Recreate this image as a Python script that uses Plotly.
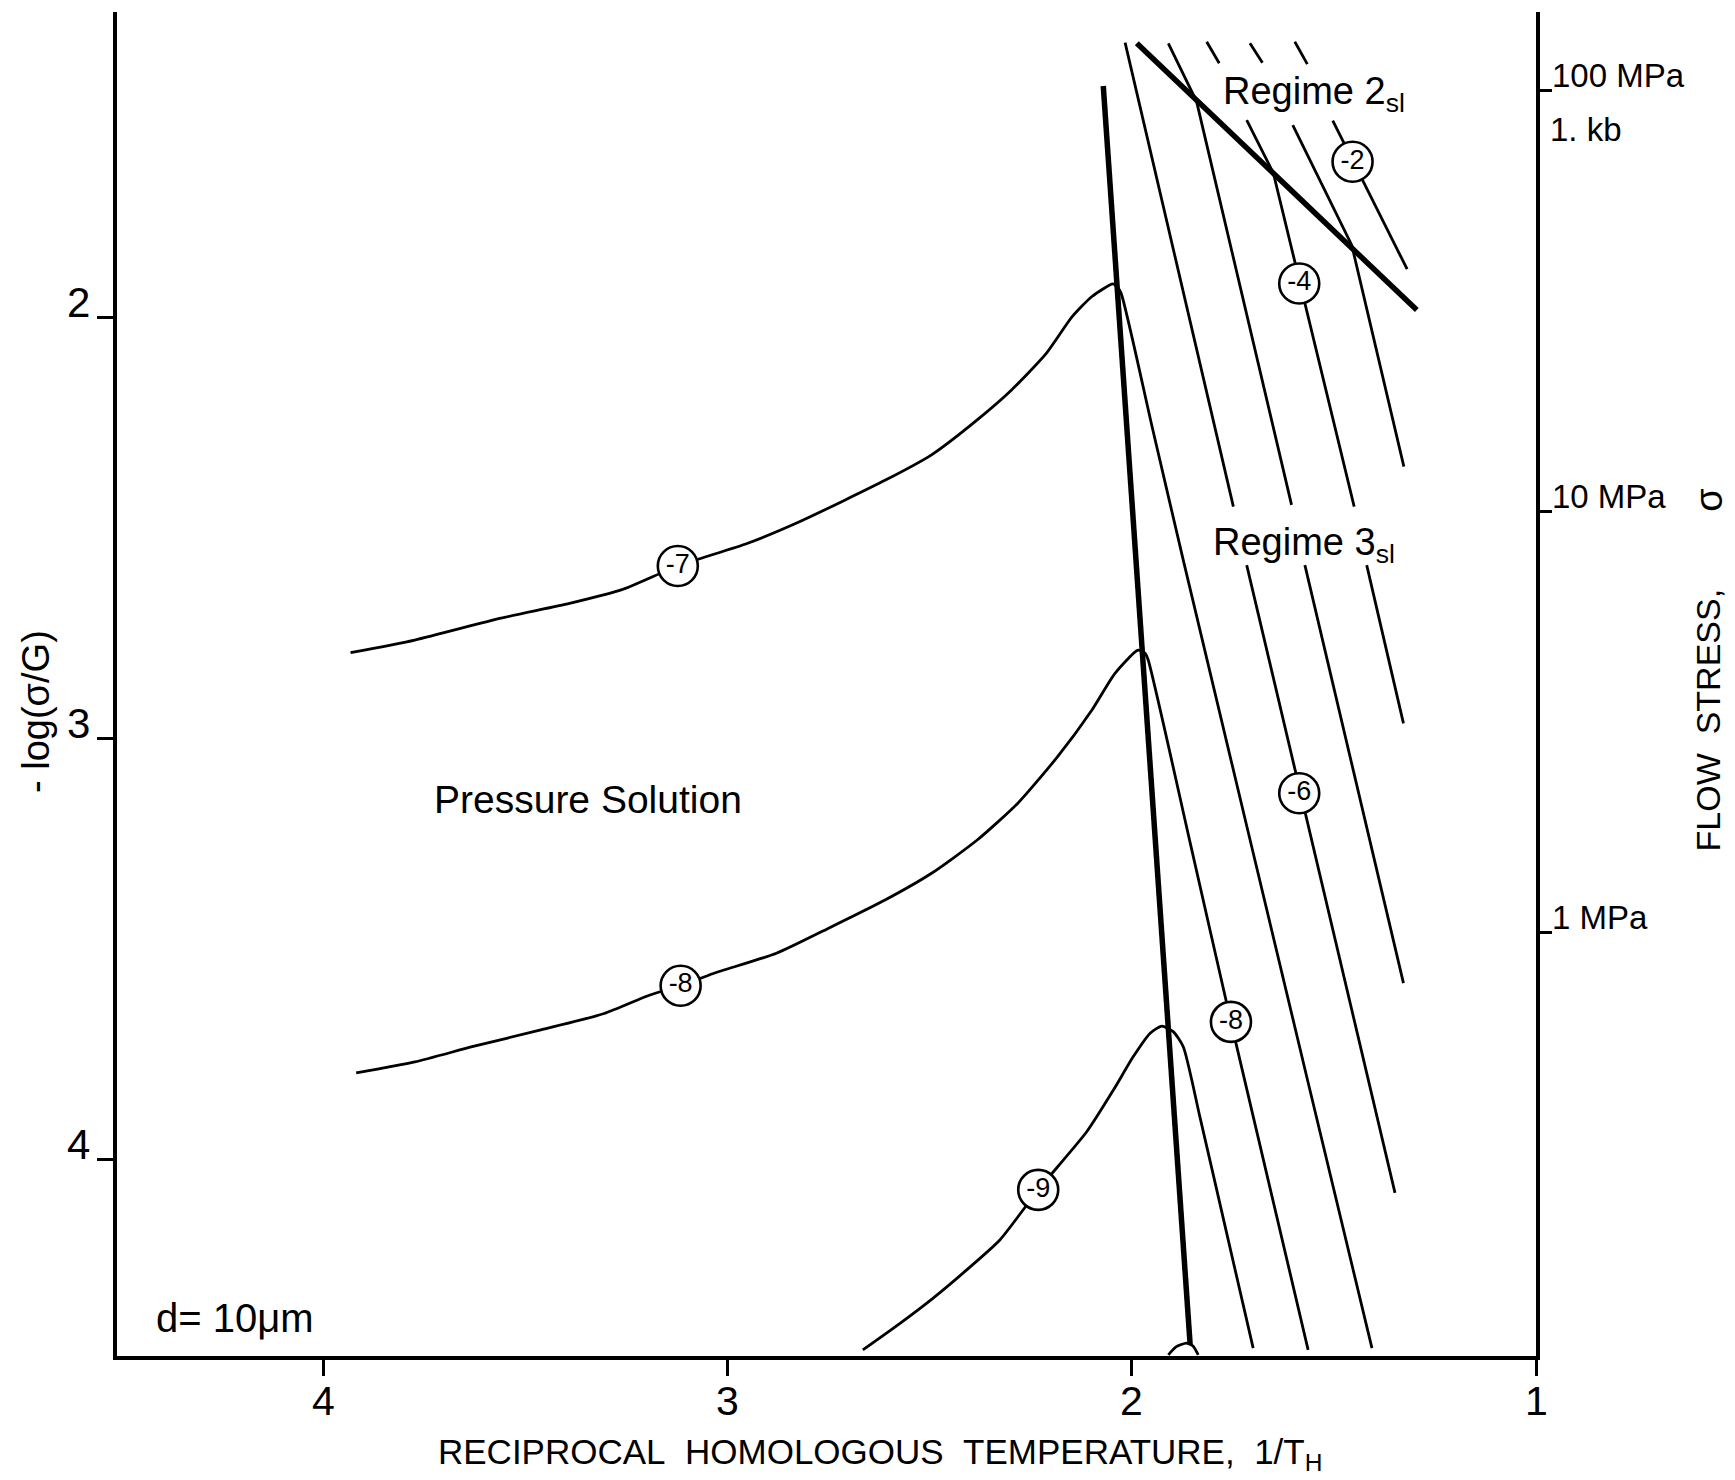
import plotly.graph_objects as go

# ---------------------------------------------------------------------------
# Deformation map: -log(sigma/G) versus reciprocal homologous temperature
# ---------------------------------------------------------------------------

X_RANGE = [4.512, 1.0]        # 1/T_H, decreasing to the right
Y_RANGE = [4.4656, 1.2732]    # -log(sigma/G), increasing downward
LOG_G_MPA = 3.46              # log10(G / MPa): sigma[MPa] = 10**(LOG_G_MPA - y)

x_ticks = [4, 3, 2, 1]
y_ticks = [2, 3, 4]
stress_ticks = [2, 1, 0]      # log10(sigma / MPa)
stress_labels = ["100 MPa", "10 MPa", "1 MPa"]

# Strain-rate contours (log strain rate) of the pressure-solution field,
# each continuing across the boundary into the regime 3 field
ps7_x = [3.934, 3.775, 3.562, 3.392, 3.264, 3.124, 2.951, 2.823, 2.610, 2.496,
         2.383, 2.298, 2.212, 2.148, 2.099, 2.047, 2.037, 2.027, 1.950, 1.873,
         1.564, 1.406]
ps7_y = [2.795, 2.765, 2.713, 2.678, 2.646, 2.589, 2.535, 2.484, 2.385, 2.325,
         2.242, 2.171, 2.084, 1.997, 1.949, 1.919, 1.926, 1.941, 2.259, 2.575,
         3.816, 4.447]

ps8_x = [3.920, 3.775, 3.633, 3.463, 3.306, 3.193, 3.117, 3.036, 2.880, 2.752,
         2.610, 2.496, 2.383, 2.283, 2.184, 2.099, 2.042, 1.985, 1.968, 1.960,
         1.857, 1.755, 1.564]
ps8_y = [3.793, 3.767, 3.731, 3.691, 3.652, 3.608, 3.586, 3.557, 3.509, 3.450,
         3.382, 3.319, 3.240, 3.153, 3.042, 2.931, 2.844, 2.789, 2.796, 2.812,
         3.242, 3.672, 4.451]

ps9_x = [2.666, 2.574, 2.492, 2.409, 2.327, 2.232, 2.112, 2.046, 1.997, 1.955,
         1.926, 1.898, 1.873, 1.832, 1.766, 1.700]
ps9_y = [4.451, 4.388, 4.328, 4.261, 4.190, 4.071, 3.933, 3.834, 3.755, 3.699,
         3.682, 3.695, 3.731, 3.897, 4.172, 4.447]

ps10_x = [1.910, 1.891, 1.865, 1.849, 1.836]
ps10_y = [4.463, 4.444, 4.435, 4.442, 4.463]

# Dislocation-creep contours (regimes 2sl / 3sl); None marks a break
dc6_x = [2.017, 1.749, None, 1.716, 1.349]
dc6_y = [1.346, 2.448, None, 2.587, 4.078]
dc5_x = [1.910, 1.840, 1.605, None, 1.572, 1.328]
dc5_y = [1.3475, 1.486, 2.444, None, 2.587, 3.580]
dc4_x = [1.815, 1.784, None, 1.716, 1.650, 1.450, None, 1.419, 1.328]
dc4_y = [1.344, 1.395, None, 1.530, 1.656, 2.448, None, 2.587, 2.963]
dc3_x = [1.708, 1.677, None, 1.602, 1.456, 1.327]
dc3_y = [1.3475, 1.394, None, 1.542, 1.827, 2.353]
dc2_x = [1.597, 1.566, None, 1.503, 1.319]
dc2_y = [1.344, 1.397, None, 1.531, 1.884]

# Field boundaries
ps_boundary_x = [2.071, 1.856]
ps_boundary_y = [1.449, 4.439]
regime_boundary_x = [1.988, 1.295]
regime_boundary_y = [1.3475, 1.981]

# Circled contour labels
label_x = [1.454, 1.586, 1.586, 1.755, 3.124, 3.117, 2.232]
label_y = [1.629, 1.918, 3.129, 3.672, 2.589, 3.586, 4.071]
label_text = ["-2", "-4", "-6", "-8", "-7", "-8", "-9"]

FONT = "Liberation Sans, Arial, sans-serif"
BLACK = "#000000"

fig = go.Figure()

def add_line(xs, ys, width, smooth=False):
    fig.add_trace(go.Scatter(
        x=xs, y=ys, mode="lines",
        line=dict(color=BLACK, width=width,
                  shape="spline" if smooth else "linear",
                  smoothing=0.6 if smooth else None),
        connectgaps=False, hoverinfo="skip", showlegend=False,
    ))

for xs, ys in [(ps7_x, ps7_y), (ps8_x, ps8_y), (ps9_x, ps9_y), (ps10_x, ps10_y)]:
    add_line(xs, ys, 2.8, smooth=True)

for xs, ys in [(dc6_x, dc6_y), (dc5_x, dc5_y), (dc4_x, dc4_y),
               (dc3_x, dc3_y), (dc2_x, dc2_y)]:
    add_line(xs, ys, 2.8)

add_line(ps_boundary_x, ps_boundary_y, 5.5)
add_line(regime_boundary_x, regime_boundary_y, 5.5)

fig.add_trace(go.Scatter(
    x=label_x, y=label_y, mode="markers+text",
    marker=dict(size=40, color="white", line=dict(color=BLACK, width=2.6)),
    text=label_text, textposition="middle center",
    textfont=dict(family=FONT, size=27, color=BLACK),
    hoverinfo="skip", showlegend=False,
))

# secondary axis trace (keeps the flow-stress axis active)
fig.add_trace(go.Scatter(x=[None], y=[None], yaxis="y2", showlegend=False,
                         hoverinfo="skip"))

annotations = []

for v in x_ticks:
    annotations.append(dict(x=v, xref="x", y=0, yref="paper", yshift=-45,
                            xanchor="center", yanchor="middle",
                            text=str(v), showarrow=False,
                            font=dict(family=FONT, size=41, color=BLACK)))
for v in y_ticks:
    annotations.append(dict(x=0, xref="paper", xanchor="right", xshift=-25,
                            y=v, yref="y", yshift=15, yanchor="middle",
                            text=str(v), showarrow=False,
                            font=dict(family=FONT, size=42, color=BLACK)))
for v, lab in zip(stress_ticks, stress_labels):
    annotations.append(dict(x=1, xref="paper", xanchor="left", xshift=14,
                            y=v, yref="y2", yshift=15, yanchor="middle",
                            text=lab, showarrow=False,
                            font=dict(family=FONT, size=33, color=BLACK)))
annotations.append(dict(x=1, xref="paper", xanchor="left", xshift=12,
                        y=stress_ticks[0], yref="y2", yshift=-39,
                        yanchor="middle", text="1. kb", showarrow=False,
                        font=dict(family=FONT, size=33, color=BLACK)))

annotations += [
    dict(x=1.780, y=1.468, xref="x", yref="y", xanchor="left",
         yanchor="middle", text="Regime 2<sub>sl</sub>", showarrow=False,
         font=dict(family=FONT, size=38, color=BLACK)),
    dict(x=1.804, y=2.540, xref="x", yref="y", xanchor="left",
         yanchor="middle", text="Regime 3<sub>sl</sub>", showarrow=False,
         font=dict(family=FONT, size=38, color=BLACK)),
    dict(x=3.347, y=3.143, xref="x", yref="y", xanchor="center",
         yanchor="middle", text="Pressure Solution",
         showarrow=False, font=dict(family=FONT, size=39, color=BLACK)),
    dict(x=4.220, y=4.375, xref="x", yref="y", xanchor="center",
         yanchor="middle", text="d= 10\u03bcm",
         showarrow=False, font=dict(family=FONT, size=40, color=BLACK)),
    dict(x=0.5377, y=0, xref="paper", yref="paper", yshift=-98,
         xanchor="center", yanchor="middle",
         text="RECIPROCAL\u00a0\u00a0HOMOLOGOUS\u00a0\u00a0TEMPERATURE,\u00a0\u00a01/T<sub>H</sub>",
         showarrow=False, font=dict(family=FONT, size=35, color=BLACK)),
    dict(x=-0.0571, y=0.4799, xref="paper", yref="paper", textangle=-90,
         xanchor="center", yanchor="middle",
         text="-\u00a0log(\u03c3/G)", showarrow=False,
         font=dict(family=FONT, size=38, color=BLACK)),
    dict(x=1.1219, y=0.4736, xref="paper", yref="paper", textangle=-90,
         xanchor="center", yanchor="middle",
         text="FLOW\u00a0\u00a0STRESS,", showarrow=False,
         font=dict(family=FONT, size=34, color=BLACK)),
    dict(x=1.1219, y=0.637, xref="paper", yref="paper", textangle=-90,
         xanchor="center", yanchor="middle",
         text="\u03c3", showarrow=False,
         font=dict(family=FONT, size=38, color=BLACK)),
]

fig.update_layout(
    width=1735, height=1480,
    margin=dict(l=117, r=199, t=12, b=124),
    paper_bgcolor="white", plot_bgcolor="white",
    showlegend=False,
    xaxis=dict(range=X_RANGE, showgrid=False, zeroline=False,
               showline=True, linecolor=BLACK, linewidth=4,
               ticks="outside", ticklen=16, tickwidth=3, tickcolor=BLACK,
               tickvals=x_ticks, showticklabels=False),
    yaxis=dict(range=Y_RANGE, showgrid=False, zeroline=False,
               showline=True, linecolor=BLACK, linewidth=4,
               ticks="outside", ticklen=16, tickwidth=3, tickcolor=BLACK,
               tickvals=y_ticks, showticklabels=False),
    yaxis2=dict(range=[LOG_G_MPA - Y_RANGE[0], LOG_G_MPA - Y_RANGE[1]],
                overlaying="y", side="right", anchor="x",
                showgrid=False, zeroline=False,
                showline=True, linecolor=BLACK, linewidth=3.5,
                ticks="outside", ticklen=12, tickwidth=3, tickcolor=BLACK,
                tickvals=stress_ticks, showticklabels=False),
    annotations=annotations,
)

fig.write_html("out.html")
